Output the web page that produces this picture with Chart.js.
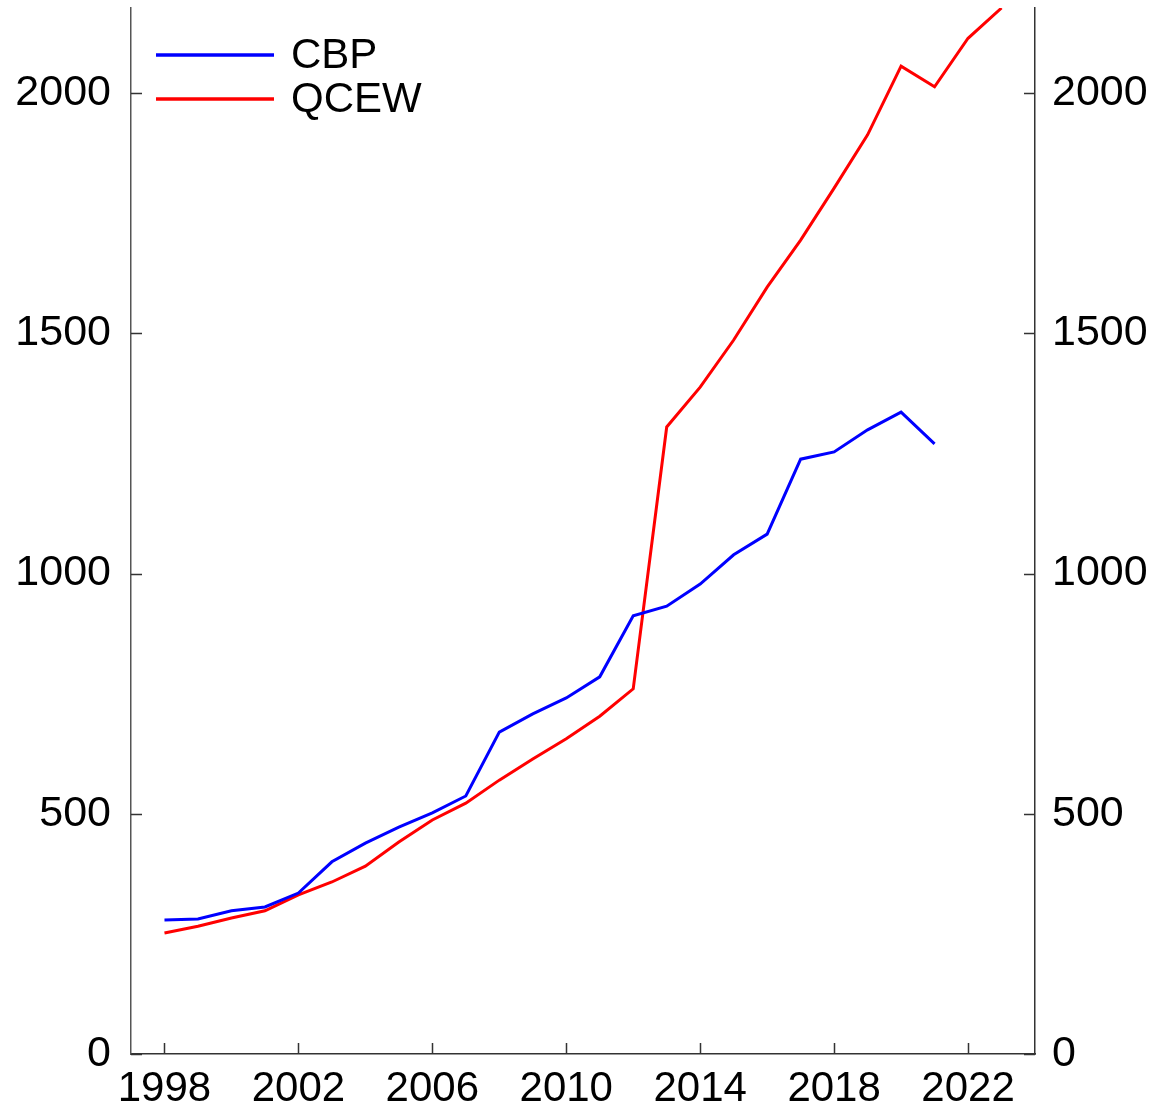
<!DOCTYPE html>
<html>
<head>
<meta charset="utf-8">
<script src="https://cdn.jsdelivr.net/npm/chart.js@4/dist/chart.umd.min.js"></script>
<style>
  html, body { margin: 0; padding: 0; background: #fff; }
  #wrap { width: 1158px; height: 1116px; position: relative; }
</style>
</head>
<body>
<div id="wrap"><canvas id="c" width="1158" height="1116"></canvas></div>
<script>
const years = [1998,1999,2000,2001,2002,2003,2004,2005,2006,2007,2008,2009,2010,2011,2012,2013,2014,2015,2016,2017,2018,2019,2020,2021,2022,2023];
const cbp = [279,281,298,306,335,400,439,472,502,537,670,708,741,785,912,932,978,1039,1082,1238,1253,1299,1336,1270];
const qcew = [252,266,283,298,331,358,391,441,487,522,570,614,656,703,760,1305,1388,1486,1596,1694,1802,1913,2056,2013,2114,2177];
const xTicks = [1998,2002,2006,2010,2014,2018,2022];
const yTicks = [0,500,1000,1500,2000];
const seriesNames = ['CBP','QCEW'];
const seriesColors = ['#0000ff','#ff0000'];

const FONT = "'Liberation Sans', Arial, sans-serif";

const pts = (vals) => vals.map((v,i) => ({x: years[i], y: v}));

const tickPlugin = {
  id: 'inwardTicks',
  afterDraw(chart) {
    const ctx = chart.ctx;
    const a = chart.chartArea;
    const len = 11;
    ctx.save();
    ctx.strokeStyle = '#333';
    ctx.lineWidth = 1.5;
    const x = chart.scales.x, y = chart.scales.y, y2 = chart.scales.y2;
    ctx.beginPath();
    xTicks.forEach(v => { const px = Math.round(x.getPixelForValue(v)) + 0.5; ctx.moveTo(px, a.bottom); ctx.lineTo(px, a.bottom - len); });
    yTicks.forEach(v => { const py = Math.round(y.getPixelForValue(v)) + 0.5; ctx.moveTo(a.left, py); ctx.lineTo(a.left + len, py); });
    yTicks.forEach(v => { const py = Math.round(y2.getPixelForValue(v)) + 0.5; ctx.moveTo(a.right, py); ctx.lineTo(a.right - len, py); });
    ctx.stroke();
    // legend
    ctx.font = '42px ' + FONT;
    ctx.textBaseline = 'middle';
    ctx.fillStyle = '#000';
    const rows = [55, 99];
    chart.data.datasets.forEach((ds, i) => {
      ctx.strokeStyle = ds.borderColor;
      ctx.lineWidth = 3.5;
      ctx.beginPath();
      ctx.moveTo(156, rows[i]); ctx.lineTo(274, rows[i]);
      ctx.stroke();
      ctx.fillText(ds.label, 291, rows[i] + 1);
    });
    ctx.restore();
  }
};

const noPad = s => { s.paddingTop = 0; s.paddingBottom = 0; s.paddingLeft = 0; s.paddingRight = 0; };

new Chart(document.getElementById('c'), {
  type: 'line',
  data: {
    datasets: [
      { label: seriesNames[0], data: pts(cbp), borderColor: seriesColors[0], borderWidth: 3, pointRadius: 0, tension: 0, fill: false },
      { label: seriesNames[1], data: pts(qcew), borderColor: seriesColors[1], borderWidth: 3, pointRadius: 0, tension: 0, fill: false }
    ]
  },
  options: {
    responsive: false,
    animation: false,
    layout: { padding: { left: 0, right: 0, top: 8, bottom: 0 } },
    plugins: { legend: { display: false }, tooltip: { enabled: false } },
    scales: {
      x: {
        type: 'linear', min: 1997, max: 2024,
        afterBuildTicks: s => { s.ticks = xTicks.map(v => ({value: v})); },
        afterFit: s => { s.height = 62; noPad(s); },
        grid: { display: false, drawTicks: false },
        border: { display: true, color: '#333', width: 1.5 },
        ticks: { color: '#000', font: { family: FONT, size: 42 }, padding: 10, maxRotation: 0, autoSkip: false, callback: v => String(v) }
      },
      y: {
        type: 'linear', position: 'left', min: 0, max: 2177,
        afterBuildTicks: s => { s.ticks = yTicks.map(v => ({value: v})); },
        afterFit: s => { s.width = 131; noPad(s); },
        grid: { display: false, drawTicks: false },
        border: { display: true, color: '#555', width: 1.5 },
        ticks: { color: '#000', font: { family: FONT, size: 43 }, padding: 20, callback: v => String(v) }
      },
      y2: {
        type: 'linear', position: 'right', min: 0, max: 2177,
        afterBuildTicks: s => { s.ticks = yTicks.map(v => ({value: v})); },
        afterFit: s => { s.width = 123; noPad(s); },
        grid: { display: false, drawTicks: false },
        border: { display: true, color: '#333', width: 1.5 },
        ticks: { color: '#000', font: { family: FONT, size: 43 }, padding: 17, callback: v => String(v) }
      }
    }
  },
  plugins: [tickPlugin]
});
</script>
</body>
</html>
